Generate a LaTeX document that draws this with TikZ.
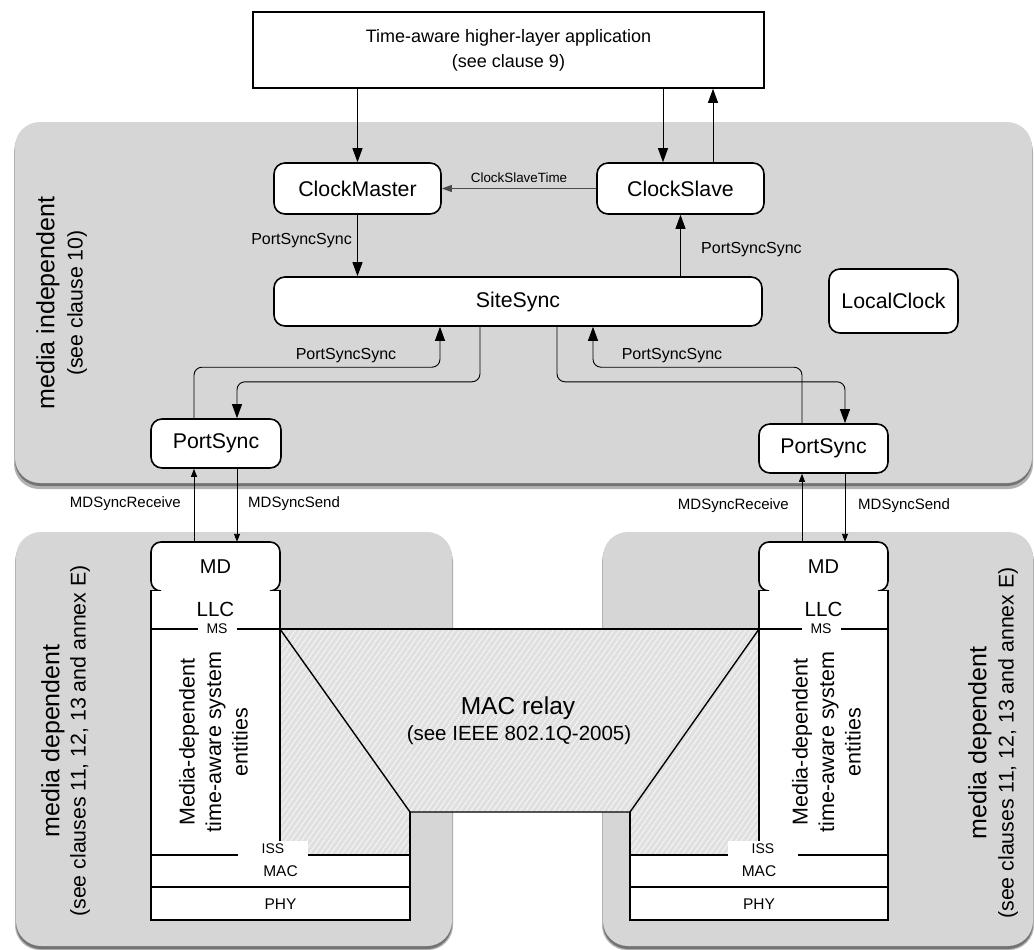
\documentclass[tikz,border=0pt]{standalone}
\usepackage{fontspec}
\setmainfont{Liberation Sans}
\usetikzlibrary{arrows.meta,patterns.meta}
\begin{document}
\begin{tikzpicture}[x=1pt,y=-1pt,
  rbox/.style={draw, line width=1.6pt, rounded corners=11pt, fill=white, inner sep=0pt, font=\fontsize{21.3}{25}\selectfont},
  bigarr/.style={-{Triangle[length=14pt,width=10pt]}, line width=0.9pt},
  smallarr/.style={-{Triangle[length=8pt,width=6pt]}, line width=0.9pt},
  midarr/.style={-{Triangle[length=10pt,width=7pt]}, line width=0.9pt, draw=black!70},
  lbl/.style={font=\fontsize{16}{19}\selectfont, inner sep=0pt},
  mdlbl/.style={font=\fontsize{15}{18}\selectfont, inner sep=0pt},
  region/.style={fill=black!16, rounded corners=25pt},
  shdA/.style={fill=black!30, rounded corners=25pt},
  shdB/.style={fill=black!55, rounded corners=25pt},
  stackline/.style={line width=1.6pt},
  thickline/.style={line width=2.2pt},
  hatchbase/.style={fill=black!12},
  hatchlines/.style={pattern={Lines[angle=55,distance=4.5pt,line width=1pt]}, pattern color=black!4},
  lay/.style={font=\fontsize{15.5}{18}\selectfont, inner sep=0pt},
  tiny/.style={font=\fontsize{14}{16}\selectfont, fill=white, inner ysep=1pt},
  side/.style={rotate=90, inner sep=0pt},
]
\useasboundingbox[fill=white] (0,0) rectangle (1034,950);

% ---------- gray regions ----------
\fill[shdA] (14,127) rectangle (1033,489);
\fill[shdB] (15,124) rectangle (1032,486);
\fill[region] (15,122) rectangle (1032,483);

\fill[shdA] (15,537) rectangle (453,950);
\fill[shdB] (16,534) rectangle (452,949);
\fill[region] (16,532) rectangle (452,946);

\fill[shdA] (602,537) rectangle (1034,950);
\fill[shdB] (603,534) rectangle (1033,949);
\fill[region] (603,532) rectangle (1033,946);

% ---------- top application box ----------
\node[draw, line width=1.6pt, fill=white, minimum width=511pt, minimum height=76pt, inner sep=0pt,
      align=center, font=\fontsize{18}{25}\selectfont] (app) at (508.5,50)
      {Time-aware higher-layer application\\(see clause 9)};

% ---------- media independent boxes ----------
\node[rbox, minimum width=167pt, minimum height=51pt] (cm) at (357.5,188.5) {ClockMaster};
\node[rbox, minimum width=167pt, minimum height=51pt] (cs) at (680.5,188.5) {ClockSlave};
\node[rbox, minimum width=488pt, minimum height=49pt] (ss) at (518,301.5) {SiteSync};
\node[rbox, minimum width=129pt, minimum height=64pt] (lc) at (893.5,301) {LocalClock};
\node[rbox, minimum width=130pt, minimum height=49pt] (lps) at (216,443.5) {PortSync};
\node[rbox, minimum width=129pt, minimum height=49pt] (rps) at (823.5,448.5) {PortSync};

% arrows app <-> clocks
\draw[bigarr] (cm.north |- app.south) -- (cm.north);
\draw[bigarr] ([xshift=-17.5pt]cs.north |- app.south) -- ([xshift=-17.5pt]cs.north);
\draw[bigarr] ([xshift=32.5pt]cs.north) -- ([xshift=32.5pt]cs.north |- app.south);

% ClockSlaveTime
\draw[midarr] (cs.west) -- (cm.east) node[midway, above=5pt, inner sep=0pt, font=\fontsize{13.4}{16}\selectfont, text=black] (cst) {ClockSlaveTime};

% ClockMaster -> SiteSync, SiteSync -> ClockSlave
\draw[bigarr] (cm.south) -- (cm.south |- ss.north);
\node[lbl, anchor=east] (pss1) at (352,241) {PortSyncSync};
\draw[bigarr] (cs.south |- ss.north) -- (cs.south);
\node[lbl, anchor=west] (pss2) at (701,250) {PortSyncSync};

% SiteSync <-> PortSyncs
\draw[bigarr, rounded corners=8pt] ([xshift=-22pt]lps.north) -- ++(0,-51) -| ([xshift=-78pt]ss.south);
\draw[bigarr, rounded corners=8pt] ([xshift=-38pt]ss.south) -- ++(0,55) -| ([xshift=21pt]lps.north);
\draw[bigarr, rounded corners=8pt] ([xshift=39pt]ss.south) -- ++(0,55) -| ([xshift=21.5pt]rps.north);
\draw[bigarr, rounded corners=8pt] ([xshift=-21.5pt]rps.north) -- ++(0,-56) -| ([xshift=75pt]ss.south);
\node[lbl] (pss3) at (346,356) {PortSyncSync};
\node[lbl] (pss4) at (672,356) {PortSyncSync};

% ---------- MAC relay hatched area ----------
\fill[hatchbase] (280,629) -- (759,629) -- (759,855) -- (630,855) -- (630,812) -- (410,812) -- (410,855) -- (280,855) -- cycle;
\fill[hatchlines] (280,629) -- (759,629) -- (759,855) -- (630,855) -- (630,812) -- (410,812) -- (410,855) -- (280,855) -- cycle;
\draw[line width=1.4pt] (280,629) -- (410,812) -- (630,812) -- (759,629);
\draw[line width=1.4pt] (410,812) -- (410,855);
\draw[line width=1.4pt] (630,812) -- (630,855);
\node[inner sep=0pt, font=\fontsize{24.5}{28}\selectfont] (relay) at (518,708) {MAC relay};
\node[inner sep=0pt, font=\fontsize{20.5}{24}\selectfont] (relay2) at (519,735) {(see IEEE 802.1Q-2005)};

% ---------- left stack ----------
\filldraw[stackline, fill=white, rounded corners=10pt] (161,591) -- (151,591) -- (151,542) -- (280,542) -- (280,591) -- (270,591);
\draw[stackline] (151,591) -- (161,591);
\draw[stackline] (270,591) -- (280,591);
\fill[white] (151,591) rectangle (280,855);
\draw[stackline] (151,590) -- (151,855);
\draw[line width=1.3pt] (280,590) -- (280,855);
\node[inner sep=0pt, minimum width=129pt, minimum height=49pt, font=\fontsize{20}{24}\selectfont] (lmd) at (215.5,566.5) {MD};
\node[inner sep=0pt, font=\fontsize{20.5}{24}\selectfont] (lllc) at (215.5,609) {LLC};
\draw[stackline, fill=white] (151,855) rectangle (410,887);
\draw[stackline, fill=white] (151,887) rectangle (410,920);
\draw[thickline] (151,629) -- (280,629);
\draw[thickline] (151,855) -- (410,855);
\node[tiny, inner xsep=9pt] (lms) at (217,629) {MS};
\node[font=\fontsize{14}{16}\selectfont, fill=white, minimum width=70pt, minimum height=15pt, inner sep=0pt] (liss) at (273,848.5) {ISS};
\node[lay] (lmac) at (280.5,871) {MAC};
\node[lay] (lphy) at (280.5,904) {PHY};
\node[side, align=center, font=\fontsize{21.5}{26.5}\selectfont] (lent) at (213.5,742)
   {Media-dependent\\time-aware system\\entities};

% ---------- right stack ----------
\filldraw[stackline, fill=white, rounded corners=10pt] (769,591) -- (759,591) -- (759,542) -- (888,542) -- (888,591) -- (878,591);
\draw[stackline] (759,591) -- (769,591);
\draw[stackline] (878,591) -- (888,591);
\fill[white] (759,591) rectangle (888,855);
\draw[line width=1.3pt] (759,590) -- (759,855);
\draw[stackline] (888,590) -- (888,855);
\node[inner sep=0pt, minimum width=129pt, minimum height=49pt, font=\fontsize{20}{24}\selectfont] (rmd) at (823.5,566.5) {MD};
\node[inner sep=0pt, font=\fontsize{20.5}{24}\selectfont] (rllc) at (823.5,609) {LLC};
\draw[stackline, fill=white] (630,855) rectangle (888,887);
\draw[stackline, fill=white] (630,887) rectangle (888,920);
\draw[thickline] (759,629) -- (888,629);
\draw[thickline] (280,629) -- (759,629);
\draw[thickline] (630,855) -- (888,855);
\node[tiny, inner xsep=9pt] (rms) at (821,629) {MS};
\node[font=\fontsize{14}{16}\selectfont, fill=white, minimum width=70pt, minimum height=15pt, inner sep=0pt] (riss) at (763,848.5) {ISS};
\node[lay] (rmac) at (759,871) {MAC};
\node[lay] (rphy) at (759,904) {PHY};
\node[side, align=center, font=\fontsize{21.5}{26.5}\selectfont] (rent) at (826.5,742)
   {Media-dependent\\time-aware system\\entities};

% ---------- MD sync arrows ----------
\draw[smallarr] ([xshift=-21.5pt]lmd.north) -- ([xshift=-21.5pt]lmd.north |- lps.south);
\draw[smallarr] ([xshift=21pt]lps.south) -- ([xshift=21pt]lps.south |- lmd.north);
\node[mdlbl, anchor=east] (lrecv) at (181,504) {MDSyncReceive};
\node[mdlbl, anchor=west] (lsend) at (248,504) {MDSyncSend};
\draw[smallarr] ([xshift=-21.5pt]rmd.north) -- ([xshift=-21.5pt]rmd.north |- rps.south);
\draw[smallarr] ([xshift=21.5pt]rps.south) -- ([xshift=21.5pt]rps.south |- rmd.north);
\node[mdlbl, anchor=east] (rrecv) at (789,506) {MDSyncReceive};
\node[mdlbl, anchor=west] (rsend) at (858,506) {MDSyncSend};

% ---------- side labels ----------
\node[side, font=\fontsize{25}{29}\selectfont] (mi1) at (48,303) {media independent};
\node[side, font=\fontsize{21.3}{25}\selectfont] (mi2) at (77,303) {(see clause 10)};
\node[side, font=\fontsize{25}{29}\selectfont] (md1) at (53,741) {media dependent};
\node[side, font=\fontsize{21.3}{25}\selectfont] (md2) at (80,741) {(see clauses 11, 12, 13 and annex E)};
\node[side, font=\fontsize{25}{29}\selectfont] (md3) at (980,743) {media dependent};
\node[side, font=\fontsize{21.3}{25}\selectfont] (md4) at (1008,743) {(see clauses 11, 12, 13 and annex E)};
\end{tikzpicture}
\end{document}
